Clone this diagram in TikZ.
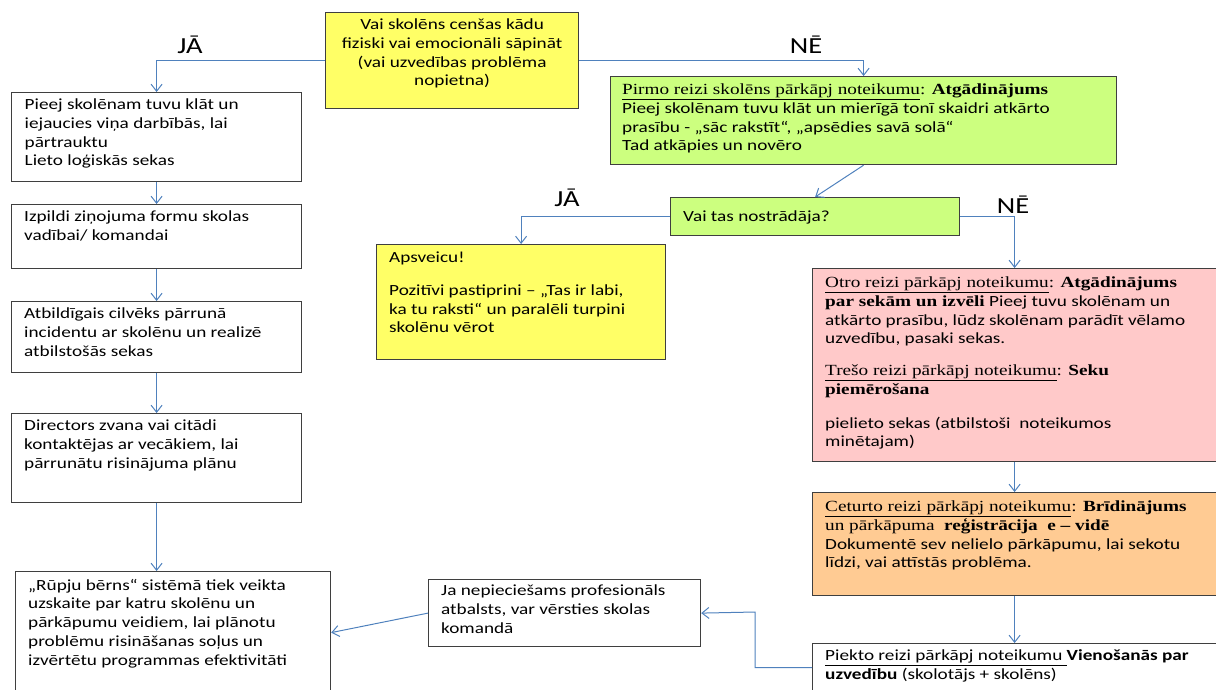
\documentclass[tikz,border=0pt]{standalone}
\usepackage{fontspec}
\setmainfont{Carlito}[FakeStretch=1.24]
\newfontfamily\serifwide{Liberation Serif}[FakeStretch=1.24]
\usetikzlibrary{calc,positioning,arrows.meta}
\definecolor{color_fill_question}{HTML}{FFFF66}
\definecolor{color_fill_first}{HTML}{CCFF7F}
\definecolor{color_fill_second}{HTML}{FFC9C9}
\definecolor{color_fill_fourth}{HTML}{FFCB93}
\definecolor{color_border}{HTML}{3F3F3F}
\definecolor{color_link}{HTML}{4F81BD}

\tikzset{
	box/.style={draw=color_border,line width=1.2pt,inner sep=0pt,anchor=north west},
	txt/.style={inner sep=0pt,align=left,anchor=north west,execute at begin node=\strut,
		font=\fontsize{15.5}{18.7}\selectfont},
	answer/.style={inner sep=0pt,font=\fontsize{23}{26}\selectfont},
	link/.style={color_link,line width=1pt,-{Straight Barb[length=7pt,width=11pt]}},
}

\begin{document}
\begin{tikzpicture}[x=1pt,y=-1pt]
				\useasboundingbox (0,0) rectangle (1216,689);
				\clip (0,0) rectangle (1216,689);
				% Points
				\coordinate (BEND) at (755,612);

				% Question boxes
				\node[box,fill=color_fill_question,minimum width=253,minimum height=96] (Q1) at (325,12) {};
				\node[txt,align=center,anchor=north] (Q1T) at ($(Q1.north)+(0,6.9)$)
					{Vai skolēns cenšas kādu\\fiziski vai emocionāli sāpināt\\(vai uzvedības problēma\\nopietna)};
				\node[box,fill=color_fill_first,minimum width=289,minimum height=38] (Q2) at (670,197) {};
				\node[txt] (Q2T) at ($(Q2.north west)+(13,10.9)$) {Vai tas nostrādāja?};

				% Left column
				\node[box,minimum width=290,minimum height=89] (LA) at (11,92) {};
				\node[txt] (LAT) at ($(LA.north west)+(13.5,6.9)$)
					{Pieej skolēnam tuvu klāt un\\iejaucies viņa darbībās, lai\\pārtrauktu\\Lieto loģiskās sekas};
				\node[box,minimum width=290,minimum height=64] (LB) at (11,204) {};
				\node[txt] (LBT) at ($(LB.north west)+(13,6.9)$)
					{Izpildi ziņojuma formu skolas\\vadībai/ komandai};
				\node[box,minimum width=290,minimum height=71] (LC) at (11,301) {};
				\node[txt] (LCT) at ($(LC.north west)+(13,6.9)$)
					{Atbildīgais cilvēks pārrunā\\incidentu ar skolēnu un realizē\\atbilstošās sekas};
				\node[box,minimum width=290,minimum height=89] (LD) at (11,413) {};
				\node[txt] (LDT) at ($(LD.north west)+(13,6.9)$)
					{Directors zvana vai citādi\\kontaktējas ar vecākiem, lai\\pārrunātu risinājuma plānu};
				\node[box,minimum width=315,minimum height=122] (LR) at (15,571) {};
				\node[txt] (LRT) at ($(LR.north west)+(13,7.9)$)
					{„Rūpju bērns“ sistēmā tiek veikta\\uzskaite par katru skolēnu un\\pārkāpumu veidiem, lai plānotu\\problēmu risināšanas soļus un\\izvērtētu programmas efektivitāti};
				\node[box,minimum width=272,minimum height=67] (JA) at (428,579) {};
				\node[txt] (JAT) at ($(JA.north west)+(13,5.9)$)
					{Ja nepieciešams profesionāls\\atbalsts, var vērsties skolas\\komandā};

				% Right column
				\node[box,fill=color_fill_first,minimum width=506,minimum height=88] (G1) at (610,76) {};
				\node[txt] (G1T) at ($(G1.north west)+(12,7.9)$)
					{{\serifwide\underline{Pirmo reizi skolēns pārkāpj noteikumu}: \textbf{Atgādinājums}}\\
					Pieej skolēnam tuvu klāt un mierīgā tonī skaidri atkārto\\
					prasību - „sāc rakstīt“, „apsēdies savā solā“\\
					Tad atkāpies un novēro};
				\node[box,fill=color_fill_question,minimum width=289,minimum height=115] (AP) at (376,244) {};
				\node[txt] (APT) at ($(AP.north west)+(13,7.9)$)
					{Apsveicu!\\[14pt]Pozitīvi pastiprini – „Tas ir labi,\\ka tu raksti“ un paralēli turpini\\skolēnu vērot};
				\node[box,fill=color_fill_second,minimum width=404,minimum height=193] (P2) at (812,268) {};
				\node[txt] (P2T) at ($(P2.north west)+(13,8.9)$)
					{{\serifwide\underline{Otro reizi pārkāpj noteikumu}: \textbf{Atgādinājums}}\\
					{\serifwide\textbf{par sekām un izvēli}} Pieej tuvu skolēnam un\\
					atkārto prasību, lūdz skolēnam parādīt vēlamo\\
					uzvedību, pasaki sekas.\\[13pt]
					{\serifwide\underline{Trešo reizi pārkāpj noteikumu}: \textbf{Seku}}\\
					{\serifwide\textbf{piemērošana}}\\[15pt]
					pielieto sekas (atbilstoši \ noteikumos\\
					minētajam)};
				\node[box,fill=color_fill_fourth,minimum width=404,minimum height=103] (P4) at (812,492) {};
				\node[txt] (P4T) at ($(P4.north west)+(13,8.9)$)
					{{\serifwide\underline{Ceturto reizi pārkāpj noteikumu}: \textbf{Brīdinājums}}\\
					{\serifwide un pārkāpuma \ \textbf{reģistrācija \ e – vidē}}\\
					Dokumentē sev nelielo pārkāpumu, lai sekotu\\
					līdzi, vai attīstās problēma.};
				\node[box,minimum width=404,minimum height=48] (P5) at (812,643) {};
				\node[txt] (P5T) at ($(P5.north west)+(13,6.9)$)
					{\underline{Piekto reizi pārkāpj noteikumu\ }\textbf{Vienošanās par}\\
					\textbf{uzvedību} (skolotājs + skolēns)};

				% Answers
				\node[answer] (YES1) at (190,45) {JĀ};
				\node[answer] (NO1) at (806,45) {NĒ};
				\node[answer] (YES2) at (567,198) {JĀ};
				\node[answer] (NO2) at (1013,205) {NĒ};

				% Arrows
				\draw[link] (Q1.west) -| (LA.north);
				\draw[link] (Q1.east) -| (G1.north);
				\draw[link] (G1.south) -- (Q2.north);
				\draw[link] (Q2.west) -| (AP.north);
				\draw[link] (Q2.east) -| (P2.north);
				\draw[link] (P2.south) -- (P4.north);
				\draw[link] (P4.south) -- (P5.north);
				\draw[link] (LA.south) -- (LB.north);
				\draw[link] (LB.south) -- (LC.north);
				\draw[link] (LC.south) -- (LD.north);
				\draw[link] (LD.south) -- (LD.south |- LR.north);
				\draw[link] (P5.west) -| (BEND) -- (JA.east);
				\draw[link] (JA.west) -- (LR.east);
\end{tikzpicture}
\end{document}
